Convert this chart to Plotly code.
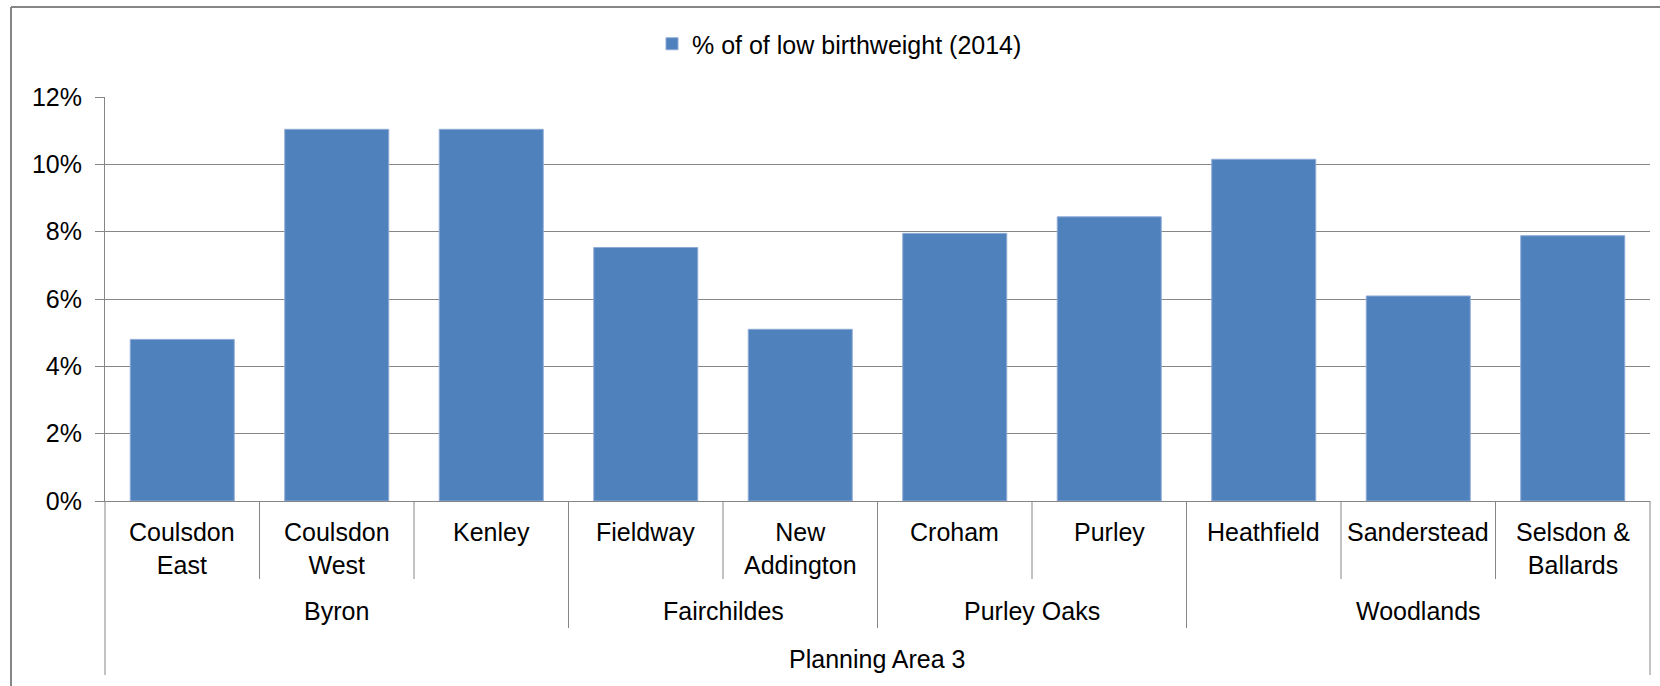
"""Low birthweight (2014) by ward, Planning Area 3 - Excel style clustered axis"""
import plotly.graph_objects as go

wards = ["Coulsdon East", "Coulsdon West", "Kenley", "Fieldway", "New Addington",
         "Croham", "Purley", "Heathfield", "Sanderstead", "Selsdon & Ballards"]
ward_labels = ["Coulsdon<br>East", "Coulsdon<br>West", "Kenley", "Fieldway", "New<br>Addington",
               "Croham", "Purley", "Heathfield", "Sanderstead", "Selsdon &<br>Ballards"]
localities = ["Byron", "Byron", "Byron", "Fairchildes", "Fairchildes",
              "Purley Oaks", "Purley Oaks", "Woodlands", "Woodlands", "Woodlands"]
planning_area = "Planning Area 3"
low_bw_pct = [4.80, 11.04, 11.04, 7.53, 5.10, 7.95, 8.44, 10.15, 6.09, 7.88]
y_ticks = [0, 2, 4, 6, 8, 10, 12]
y_tick_text = ["0%", "2%", "4%", "6%", "8%", "10%", "12%"]

W, H = 1660, 686
L, R, T, B = 105, 10, 97, 185
PLOT_H = H - T - B
PLOT_W = W - L - R

GREY = "#868686"
FONT = "Arial, Liberation Sans, sans-serif"
FS = 25


def py(pix):
    # pixel row -> paper y
    return (H - B - pix) / PLOT_H


def px(pix):
    return (pix - L) / PLOT_W


fig = go.Figure(
    go.Bar(
        x=wards,
        y=low_bw_pct,
        name="% of of low birthweight (2014)",
        marker=dict(color="#4f81bd", line=dict(color="#8eaad6", width=1)),
    )
)

# ward labels (inner row)
annotations = []
for w, lab in zip(wards, ward_labels):
    annotations.append(dict(x=w, xref="x", y=py(516), yref="paper", yanchor="top",
                            text=lab, showarrow=False))

# locality runs
runs = []
start = 0
for i in range(1, len(localities) + 1):
    if i == len(localities) or localities[i] != localities[start]:
        runs.append((localities[start], start, i - 1))
        start = i
for name, a, b in runs:
    annotations.append(dict(x=(a + b) / 2, xref="x", y=py(595), yref="paper", yanchor="top",
                            text=name, showarrow=False))
annotations.append(dict(x=(len(wards) - 1) / 2, xref="x", y=py(643), yref="paper", yanchor="top",
                        text=planning_area, showarrow=False))

# divider lines under the axis
shapes = []
for i in range(len(wards) - 1):
    bottom = 628 if localities[i] != localities[i + 1] else 579
    shapes.append(dict(type="line", xref="x", yref="paper", x0=i + 0.5, x1=i + 0.5,
                       y0=0, y1=py(bottom), line=dict(color=GREY, width=1)))
for xe in (0, 1):
    shapes.append(dict(type="line", xref="paper", yref="paper", x0=xe, x1=xe,
                       y0=0, y1=py(675), line=dict(color=GREY, width=1)))

# chart frame (cropped at right/bottom)
shapes.append(dict(type="line", xref="paper", yref="paper", x0=px(11), x1=px(11),
                   y0=py(7), y1=py(720), line=dict(color=GREY, width=2)))
shapes.append(dict(type="line", xref="paper", yref="paper", x0=px(11), x1=px(1720),
                   y0=py(7), y1=py(7), line=dict(color=GREY, width=2)))

fig.update_layout(
    width=W,
    height=H,
    margin=dict(l=L, r=R, t=T, b=B),
    paper_bgcolor="white",
    plot_bgcolor="white",
    font=dict(family=FONT, size=FS, color="#000000"),
    bargap=0.327,
    showlegend=True,
    legend=dict(orientation="h", x=px(652), xanchor="left", y=py(44), yanchor="middle",
                font=dict(size=FS)),
    annotations=annotations,
    shapes=shapes,
)
fig.update_xaxes(type="category", showticklabels=False, ticks="", showgrid=False,
                 showline=True, linecolor=GREY, linewidth=1, zeroline=False)
fig.update_yaxes(range=[0, 12], tickvals=y_ticks, ticktext=y_tick_text, showgrid=True,
                 gridcolor=GREY, gridwidth=1, showline=True, linecolor=GREY, linewidth=1,
                 ticks="outside", ticklen=9, tickcolor=GREY, zeroline=False,
                 ticklabelstandoff=8)

# drop the default 8px body margin so the figure sits at the page origin
fig.write_html("out.html", config={"displayModeBar": False},
               post_script="document.body.style.margin = '0';")
